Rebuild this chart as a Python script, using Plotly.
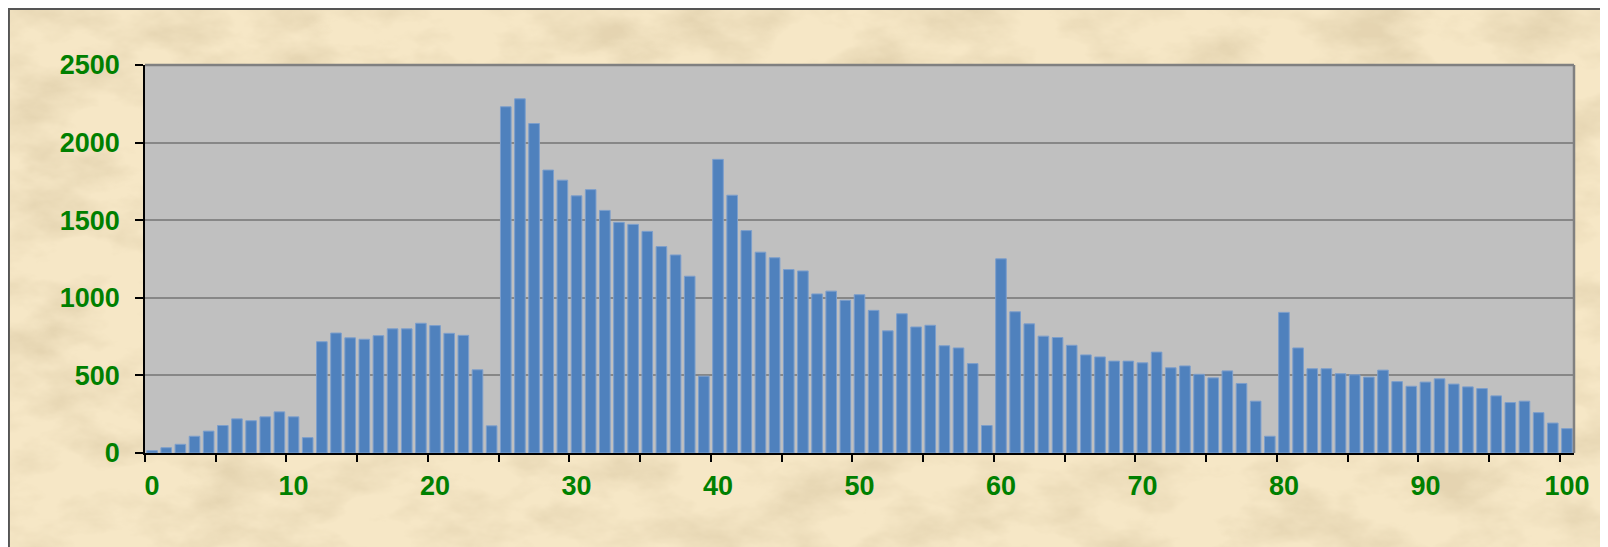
import base64
import plotly.graph_objects as go

categories = list(range(0, 101))
values = [15, 34, 56, 108, 141, 177, 220, 208, 233, 265,
          233, 99, 717, 773, 742, 733, 756, 800, 800, 836,
          821, 771, 758, 536, 175, 2231, 2282, 2123, 1823, 1758,
          1657, 1697, 1563, 1486, 1473, 1428, 1330, 1276, 1139, 495,
          1892, 1661, 1433, 1294, 1258, 1182, 1173, 1025, 1043, 984,
          1020, 919, 787, 897, 812, 823, 691, 677, 576, 177,
          1251, 910, 832, 753, 744, 694, 632, 619, 592, 592,
          581, 650, 549, 561, 507, 484, 529, 448, 334, 108,
          906, 677, 543, 543, 511, 504, 489, 534, 460, 430,
          457, 478, 444, 426, 415, 368, 325, 334, 260, 193,
          157]
x_tick_labels = [str(v) for v in range(0, 101, 10)]
y_tick_values = [0, 500, 1000, 1500, 2000, 2500]

W, H = 1608, 547
L, R, T, B = 136.6, 42, 56.6, 101.5
pw = W - L - R
ph = H - T - B

def px_x(p):
    return (p - L) / pw

def px_y(p):
    return (H - B - p) / ph

green = "#008000"
font_family = "Liberation Sans, Arial, sans-serif"
FS = 27

# decorative parchment texture (SVG turbulence filter)
svg = (
    "<svg xmlns='http://www.w3.org/2000/svg' width='1608' height='547'>"
    "<filter id='n' x='0' y='0' width='100%' height='100%'>"
    "<feTurbulence type='fractalNoise' baseFrequency='0.012 0.022' numOctaves='5' seed='7'/>"
    "<feColorMatrix type='matrix' values='0 0 0 0 0.78  0 0 0 0 0.66  0 0 0 0 0.44  2.4 0 0 0 -0.98'/>"
    "</filter>"
    "<rect width='100%' height='100%' fill='#F6E7C6'/>"
    "<rect width='100%' height='100%' filter='url(#n)'/>"
    "</svg>"
)
texture = "data:image/svg+xml;base64," + base64.b64encode(svg.encode()).decode()

fig = go.Figure()
fig.add_trace(go.Bar(
    x=categories, y=values,
    marker=dict(color="#4F81BD", line=dict(color="#7D9FCC", width=1)),
    hoverinfo="x+y",
))

shapes = [
    # frame of the chart panel
    dict(type="rect", xref="paper", yref="paper", layer="below",
         x0=px_x(0.5), x1=px_x(W + 20), y0=px_y(H + 20), y1=px_y(0.5),
         fillcolor="rgba(0,0,0,0)", line=dict(color="#555555", width=2)),
    # plot area background
    dict(type="rect", xref="paper", yref="paper", layer="below",
         x0=0, x1=1, y0=0, y1=1, fillcolor="#C0C0C0", line=dict(width=0)),
    # top and right border of plot area
    dict(type="line", xref="paper", yref="paper", layer="above",
         x0=0, x1=1, y0=1, y1=1, line=dict(color="#808080", width=2.5)),
    dict(type="line", xref="paper", yref="paper", layer="above",
         x0=1, x1=1, y0=0, y1=1, line=dict(color="#808080", width=2.5)),
]

fig.update_layout(
    width=W, height=H,
    margin=dict(l=L, r=R, t=T, b=B, pad=0),
    paper_bgcolor="#F0DFBA",
    plot_bgcolor="rgba(0,0,0,0)",
    bargap=0.25,
    showlegend=False,
    shapes=shapes,
    images=[dict(source=texture, xref="paper", yref="paper",
                 x=px_x(0), y=px_y(0), sizex=W / pw, sizey=H / ph,
                 xanchor="left", yanchor="top", sizing="stretch",
                 layer="below")],
    font=dict(family=font_family, size=FS, color=green),
)
fig.update_xaxes(
    range=[-0.5, 100.5],
    tickmode="array",
    tickvals=list(range(0, 101, 10)),
    ticktext=x_tick_labels,
    ticks="outside", ticklen=0, tickcolor="black",
    showline=True, linecolor="black", linewidth=1.5,
    showgrid=False, zeroline=False,
    tickfont=dict(family=font_family, size=FS, color=green, weight="bold"),
    ticklabelstandoff=8,
    minor=dict(tickmode="array", tickvals=[v - 0.5 for v in range(0, 101, 5)],
               ticks="outside", ticklen=7, tickcolor="black", tickwidth=1.5,
               showgrid=False),
)
fig.update_yaxes(
    range=[0, 2500],
    tickmode="array",
    tickvals=y_tick_values,
    ticks="outside", ticklen=8, tickcolor="black", tickwidth=1.5,
    showline=True, linecolor="black", linewidth=1.5,
    showgrid=True, gridcolor="#878787", gridwidth=1.5,
    zeroline=False,
    tickfont=dict(family=font_family, size=FS, color=green, weight="bold"),
    ticklabelstandoff=10,
)

fig.write_html("out.html")
